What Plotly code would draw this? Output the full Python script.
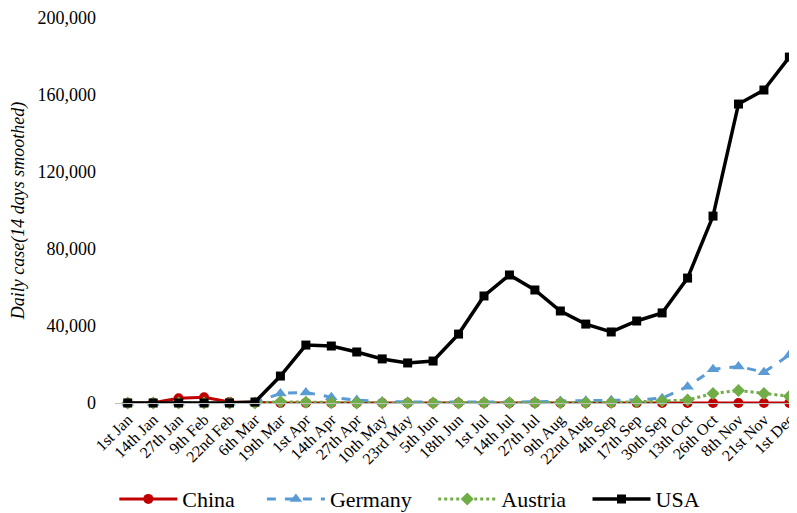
import plotly.graph_objects as go

dates = ["1st Jan", "14th Jan", "27th Jan", "9th Feb", "22nd Feb", "6th Mar", "19th Mar",
         "1st Apr", "14th Apr", "27th Apr", "10th May", "23rd May", "5th Jun", "18th Jun",
         "1st Jul", "14th Jul", "27th Jul", "9th Aug", "22nd Aug", "4th Sep", "17th Sep",
         "30th Sep", "13th Oct", "26th Oct", "8th Nov", "21st Nov", "1st Dec"]

china = [0, 100, 2500, 3000, 500, 100, 50, 50, 50, 20, 20, 20, 20, 30,
         20, 30, 50, 50, 30, 20, 20, 20, 20, 30, 30, 30, 50]
germany = [0, 0, 0, 0, 0, 200, 5000, 5500, 3000, 1500, 800, 500, 400, 500,
           500, 500, 600, 1000, 1200, 1400, 1600, 2500, 8500, 17500, 19000, 16000, 25000]
austria = [0, 0, 0, 0, 0, 30, 600, 400, 100, 50, 30, 30, 30, 50,
           100, 100, 150, 150, 150, 300, 600, 1000, 1500, 5000, 6500, 5000, 3500]
usa = [0, 0, 0, 0, 0, 500, 14000, 30100, 29600, 26500, 22900, 20800, 21800, 35800,
       55600, 66500, 58700, 47800, 41000, 36900, 42600, 46800, 64900, 97100, 155300, 162600, 179700]

y_ticks = [0, 40000, 80000, 120000, 160000, 200000]
y_tick_text = ["0", "40,000", "80,000", "120,000", "160,000", "200,000"]

fig = go.Figure()
fig.add_trace(go.Scatter(x=dates, y=china, name="China" + "\u00a0" * 4, mode="lines+markers",
                         line=dict(color="#C00000", width=3),
                         marker=dict(symbol="circle", size=10, color="#C00000"),
                         cliponaxis=False))
fig.add_trace(go.Scatter(x=dates, y=germany, name="Germany" + "\u00a0" * 3, mode="lines+markers",
                         line=dict(color="#5B9BD5", width=3, dash="dash"),
                         marker=dict(symbol="triangle-up", size=11, color="#5B9BD5"),
                         cliponaxis=False))
fig.add_trace(go.Scatter(x=dates, y=austria, name="Austria" + "\u00a0" * 3, mode="lines+markers",
                         line=dict(color="#70AD47", width=3, dash="dot"),
                         marker=dict(symbol="diamond", size=10, color="#70AD47"),
                         cliponaxis=False))
fig.add_trace(go.Scatter(x=dates, y=usa, name="USA", mode="lines+markers",
                         line=dict(color="#000000", width=3.5),
                         marker=dict(symbol="square", size=9, color="#000000"),
                         cliponaxis=False))

fig.update_layout(
    width=789, height=505,
    margin=dict(l=107, r=0, t=10, b=110, autoexpand=False),
    paper_bgcolor="white", plot_bgcolor="white",
    font=dict(family="Liberation Serif", color="#000000"),
    showlegend=True,
    legend=dict(orientation="h", x=-0.001, xanchor="left", y=-0.195, yanchor="top",
                font=dict(size=22, family="Liberation Serif"), itemwidth=58,
                traceorder="normal"),
)
fig.update_xaxes(type="category", range=[-0.5, 26.3], showgrid=False,
                 showline=True, linecolor="#BFBFBF", linewidth=1,
                 tickangle=-45, tickfont=dict(size=16, family="Liberation Serif"),
                 ticks="", zeroline=False, automargin=False)
fig.update_yaxes(range=[0, 200000], tickvals=y_ticks, ticktext=y_tick_text,
                 showgrid=False, showline=False, zeroline=False, ticks="",
                 tickfont=dict(size=18, family="Liberation Serif"),
                 ticklabelstandoff=18, automargin=False,
                 title=dict(text="<i>Daily case(14 days smoothed)</i>",
                            font=dict(size=18, family="Liberation Serif"), standoff=8))

fig.write_html("out.html")
